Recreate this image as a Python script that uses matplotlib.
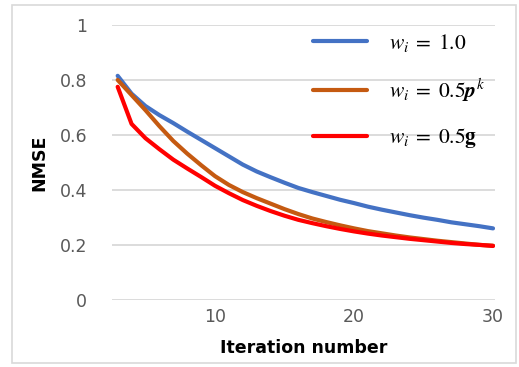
"""NMSE versus iteration number for three weight choices (Excel-style line chart)."""

import matplotlib

matplotlib.use("Agg")
import matplotlib.pyplot as plt  # noqa: E402
from matplotlib.patches import Rectangle  # noqa: E402

plt.rcParams["mathtext.fontset"] = "stix"

# Values.
iterations = list(range(3, 31))
nmse_w_one = [0.815, 0.75, 0.705, 0.672, 0.643, 0.612, 0.582, 0.552, 0.522, 0.492,
              0.467, 0.446, 0.426, 0.407, 0.392, 0.378, 0.364, 0.352, 0.339, 0.328,
              0.318, 0.308, 0.299, 0.291, 0.282, 0.275, 0.268, 0.26]
nmse_w_pk = [0.80, 0.745, 0.69, 0.632, 0.578, 0.532, 0.49, 0.45, 0.418, 0.392,
             0.37, 0.35, 0.33, 0.312, 0.296, 0.283, 0.271, 0.26, 0.25, 0.242,
             0.234, 0.227, 0.221, 0.215, 0.21, 0.205, 0.20, 0.197]
nmse_w_g = [0.775, 0.64, 0.588, 0.548, 0.51, 0.478, 0.447, 0.415, 0.388, 0.363,
            0.342, 0.323, 0.306, 0.291, 0.279, 0.268, 0.258, 0.249, 0.241, 0.234,
            0.228, 0.222, 0.217, 0.212, 0.207, 0.203, 0.20, 0.196]

labels = [r"$w_i\;=\;1.0$", r"$w_i\;=\;0.5\boldsymbol{p}^k$", r"$w_i\;=\;0.5\mathbf{g}$"]
colors = ["#4472C4", "#C55A11", "#FF0000"]
y_ticks = [0, 0.2, 0.4, 0.6, 0.8, 1]
y_tick_labels = ["0", "0.2", "0.4", "0.6", "0.8", "1"]
x_ticks = [10, 20, 30]

fig = plt.figure(figsize=(5.19, 3.67), dpi=100)
fig.patches.append(Rectangle((0.024, 0.012), 0.97, 0.975, transform=fig.transFigure,
                             fill=False, edgecolor="#d9d9d9", lw=1.2))
ax = fig.add_axes([0.216, 0.183, 0.738, 0.749])

for series, color, label in zip([nmse_w_one, nmse_w_pk, nmse_w_g], colors, labels):
    ax.plot(iterations, series, color=color, lw=3.0, label=label, solid_capstyle="round")

ax.set_xlim(2.6, 30.15)
ax.set_ylim(0, 1)
ax.set_yticks(y_ticks)
ax.set_yticklabels(y_tick_labels)
ax.set_xticks(x_ticks)
ax.grid(axis="y", color="#d9d9d9", lw=1.3)
ax.set_axisbelow(True)
for s in ax.spines.values():
    s.set_visible(False)
ax.tick_params(length=0, labelsize=12.5, colors="#595959")
ax.tick_params(axis="y", pad=18)
ax.tick_params(axis="x", pad=6)
ax.set_xlabel("Iteration number", fontsize=12.5, fontweight="bold", labelpad=9)
ax.set_ylabel("NMSE", fontsize=12.5, fontweight="bold", labelpad=8)

ax.legend(loc="upper left", bbox_to_anchor=(0.475, 1.045), frameon=False, fontsize=15.5,
          handlelength=2.5, handletextpad=1.0, labelspacing=1.05)

fig.savefig("out.png", dpi=100)
